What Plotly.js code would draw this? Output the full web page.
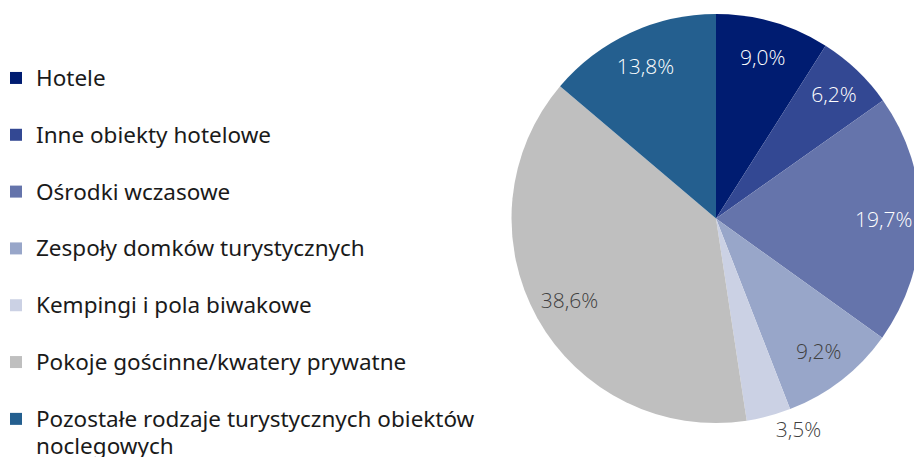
<!DOCTYPE html>
<html>
<head>
<meta charset="utf-8">
<script src="https://cdn.plot.ly/plotly-3.0.1.min.js"></script>
<style>
  html, body { margin: 0; padding: 0; overflow: hidden; background: #fff; }
  #chart { width: 930px; height: 457px; }
</style>
</head>
<body>
<div id="chart"></div>
<script>
// Struktura turystycznych obiektów noclegowych (%)
const categories = [
  "Hotele",
  "Inne obiekty hotelowe",
  "Ośrodki wczasowe",
  "Zespoły domków turystycznych",
  "Kempingi i pola biwakowe",
  "Pokoje gościnne/kwatery prywatne",
  "Pozostałe rodzaje turystycznych obiektów<br>noclegowych"
];
const shares = [9.0, 6.2, 19.7, 9.2, 3.5, 38.6, 13.8];
const sliceColors = ["#001c71", "#334893", "#6574ab", "#98a6c9", "#cbd1e4", "#bfbfbf", "#245f8f"];
const labelColors = ["#ffffff", "#ffffff", "#ffffff", "#404040", "#404040", "#404040", "#ffffff"];
const labelPositions = ["inside", "inside", "inside", "inside", "outside", "inside", "inside"];

const W = 930, H = 457;
// pie box in pixels (center 716, 218.5, radius 204.5)
const pieDomain = {
  x: [511.5 / W, 920.5 / W],
  y: [34 / H, 443 / H]
};

// legend rows: text a bit larger than the row font, and single-line entries
// get a blank second line so the rows are spaced like the original
const legendLabels = categories.map(c => {
  const lines = c.split("<br>").map(s => '<span style="font-size:22.5px">' + s + "</span>");
  if (lines.length === 1) lines.push("\u00a0");
  return lines.join("<br>");
});

const pieTrace = {
  type: "pie",
  labels: legendLabels,
  values: shares,
  sort: false,
  direction: "clockwise",
  rotation: 0,
  marker: { colors: sliceColors, line: { width: 0 } },
  textinfo: "none",
  hoverinfo: "skip",
  domain: pieDomain
};

// transparent ring on top, only used to place the percentage labels near the rim
const labelTrace = {
  type: "pie",
  labels: categories.map((c, i) => "lbl" + i),
  values: shares,
  sort: false,
  direction: "clockwise",
  rotation: 0,
  hole: 0.64,
  showlegend: false,
  marker: { colors: shares.map(() => "rgba(0,0,0,0)"), line: { width: 0 } },
  texttemplate: "%{value:.1f}%",
  textposition: labelPositions,
  insidetextorientation: "horizontal",
  textfont: { family: "Open Sans, sans-serif", size: 21, weight: 300, color: labelColors },
  hoverinfo: "skip",
  domain: pieDomain
};

const layout = {
  width: W,
  height: H,
  margin: { l: 0, r: 0, t: 0, b: 0, autoexpand: false },
  paper_bgcolor: "#ffffff",
  separators: ", ",
  showlegend: true,
  legend: {
    x: -4 / W,
    xanchor: "left",
    y: 1 - 58 / H,
    yanchor: "top",
    valign: "top",
    bgcolor: "rgba(0,0,0,0)",
    font: { family: "Noto Sans, sans-serif", size: 20.7, color: "#1a1a1a" }
  }
};

Plotly.newPlot("chart", [pieTrace, labelTrace], layout, { staticPlot: true });
</script>
</body>
</html>
